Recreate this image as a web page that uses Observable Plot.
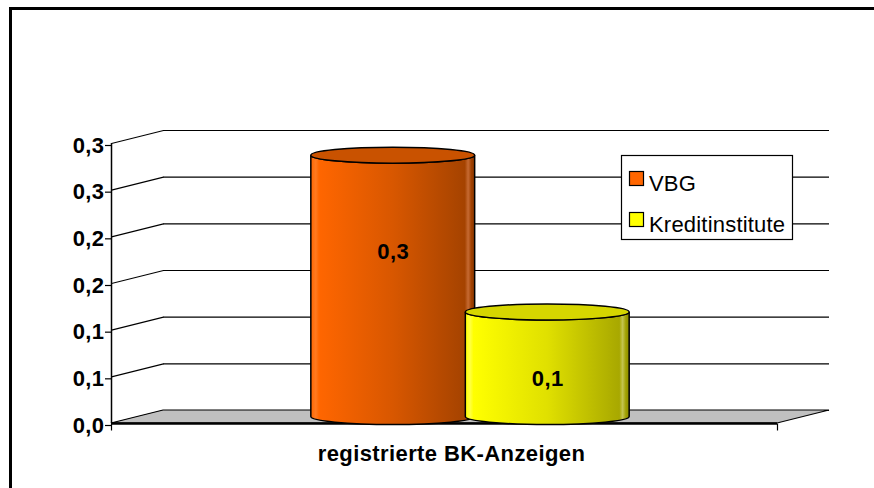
<!DOCTYPE html>
<html><head><meta charset="utf-8">
<script src="https://cdn.jsdelivr.net/npm/d3@7"></script>
<script src="https://cdn.jsdelivr.net/npm/@observablehq/plot@0.6"></script>
<style>html,body{margin:0;padding:0;background:#fff;overflow:hidden;} svg{display:block;overflow:hidden}</style>
</head><body><div id="chart"></div>
<script>
// ---- data ----
const category = "registrierte BK-Anzeigen";
const series = ["VBG", "Kreditinstitute"];
const values = [0.28, 0.112];
const valueLabels = ["0,3", "0,1"];
const yTicks = [0, 0.05, 0.1, 0.15, 0.2, 0.25, 0.3];
const yTickLabels = ["0,0", "0,1", "0,1", "0,2", "0,2", "0,3", "0,3"];

// ---- styles / layout ----
const sideGradients = [
  [["0%","#FF6600"],["3%","#FF7A20"],["5%","#FF6600"],["50%","#D85700"],["94%","#A54300"],["96%","#C66A32"],["98%","#A04000"],["100%","#8A3700"]],
  [["0%","#FFFF00"],["3%","#FFFF40"],["5%","#FFFF00"],["50%","#E0E000"],["94%","#A8A800"],["96%","#C4C450"],["98%","#A0A000"],["100%","#8C8C00"]]
];
const topColors = ["#C95200", "#D6D600"];
const swatchColors = ["#FF6600", "#FFFF00"];
const labelNudge = [-34, 14];
const W = 874, H = 488, L = 111, R = 777, T = 143, B = 423;
const depthDx = 52, depthDy = -13;
const xPerPx = 1 / (R - L), yPerPx = 0.3 / (B - T);
const depthX = depthDx * xPerPx, depthY = -depthDy * yPerPx;
const barCenters = [0.384, 0.616];
const barWidth = 0.246;
const font = "'Liberation Sans', Arial, Helvetica, sans-serif";

const rows = series.map((s, i) => ({series: s, value: values[i], label: valueLabels[i], i}));

function frameMark(index, scales) {
  const g = d3.create("svg:g");
  g.append("line").attr("x1", 10.5).attr("x2", 10.5).attr("y1", 7).attr("y2", H)
    .attr("stroke", "#000").attr("stroke-width", 3);
  g.append("line").attr("x1", 9).attr("x2", W).attr("y1", 8.5).attr("y2", 8.5)
    .attr("stroke", "#000").attr("stroke-width", 3);
  return g.node();
}

function floorMark(index, scales) {
  const g = d3.create("svg:g");
  const p = [[scales.x(0), scales.y(0)], [scales.x(1), scales.y(0)],
             [scales.x(1 + depthX), scales.y(depthY)], [scales.x(depthX), scales.y(depthY)]];
  g.append("path").attr("d", "M" + p.map(q => q.join(",")).join("L") + "Z")
    .attr("fill", "#C0C0C0").attr("stroke", "#000").attr("stroke-width", 1.2);
  return g.node();
}

function cylinderMark(index, scales) {
  const g = d3.create("svg:g");
  const defs = g.append("defs");
  rows.forEach((r, i) => {
    const lg = defs.append("linearGradient").attr("id", "side" + i)
      .attr("x1", "0").attr("x2", "1").attr("y1", "0").attr("y2", "0");
    sideGradients[i].forEach(([o, c]) => lg.append("stop").attr("offset", o).attr("stop-color", c));
  });
  rows.forEach((r, i) => {
    const cx = scales.x(barCenters[i]) + depthDx / 2;
    const rx = (scales.x(barWidth) - scales.x(0)) / 2;
    const ry = 8;
    const yTop = scales.y(r.value) + depthDy / 2;
    const yBot = scales.y(0) + depthDy / 2;
    g.append("path")
      .attr("d", `M${cx - rx},${yTop}V${yBot}A${rx},${ry} 0 0 0 ${cx + rx},${yBot}V${yTop}A${rx},${ry} 0 0 1 ${cx - rx},${yTop}Z`)
      .attr("fill", `url(#side${i})`).attr("stroke", "#000").attr("stroke-width", 1.5);
    g.append("ellipse").attr("cx", cx).attr("cy", yTop).attr("rx", rx).attr("ry", ry)
      .attr("fill", topColors[i]).attr("stroke", "#000").attr("stroke-width", 1.5);
  });
  return g.node();
}

function legendMark(index, scales) {
  const g = d3.create("svg:g").attr("text-anchor", "start");
  g.append("rect").attr("x", 621.5).attr("y", 155.5).attr("width", 171).attr("height", 84)
    .attr("fill", "#fff").attr("stroke", "#000").attr("stroke-width", 1.2);
  series.forEach((s, i) => {
    const y0 = 171.5 + i * 41;
    g.append("rect").attr("x", 629.5).attr("y", y0).attr("width", 14).attr("height", 14)
      .attr("fill", swatchColors[i]).attr("stroke", "#000").attr("stroke-width", 1.2);
    g.append("text").attr("x", 649).attr("y", y0 + 19).text(s).attr("text-anchor", "start")
      .attr("font-family", font).attr("font-size", 22).attr("letter-spacing", "0.2px").attr("fill", "#000");
  });
  return g.node();
}

const chart = Plot.plot({
  width: W, height: H,
  marginLeft: L, marginRight: W - R, marginTop: T, marginBottom: H - B,
  x: {domain: [0, 1], axis: null},
  y: {domain: [0, 0.3], axis: null},
  style: {fontFamily: font, background: "#fff", color: "#000"},
  marks: [
    frameMark,
    Plot.link(yTicks, {x1: 0, y1: d => d, x2: depthX, y2: d => d + depthY, stroke: "#000", strokeWidth: 1.2}),
    Plot.ruleY(yTicks, {x1: depthX, x2: 1 + depthX, y: d => d + depthY, stroke: "#000", strokeWidth: 1.2}),
    floorMark,
    Plot.ruleY([0], {x1: 0, x2: 1, stroke: "#000", strokeWidth: 2.5}),
    Plot.link([0, 1], {x1: d => d, x2: d => d, y1: 0, y2: -7 * yPerPx, stroke: "#000", strokeWidth: 1.2}),
    Plot.ruleX([0], {y1: 0, y2: 0.3, stroke: "#000", strokeWidth: 1.5}),
    Plot.axisY({ticks: yTicks, tickFormat: d => yTickLabels[yTicks.indexOf(d)], tickSize: 6, tickPadding: 1,
      fontSize: 22, fontWeight: "bold", label: null, anchor: "left", dy: 2, stroke: "#000", strokeWidth: 1.2}),
    legendMark,
    cylinderMark,
    ...rows.map((r, i) => Plot.text([r], {x: barCenters[i], y: d => d.value / 2, text: "label",
      dx: depthDx / 2, dy: depthDy / 2 + labelNudge[i], fontSize: 22, fontWeight: "bold", fill: "#000"})),
    Plot.text([category], {x: 0.5, y: 0, text: d => d, dx: 7, dy: 30, fontSize: 22, fontWeight: "bold", fill: "#000"})
  ]
});
d3.select(chart).selectAll("text").style("letter-spacing", function() {
  return this.getAttribute("font-weight") === "bold" || this.closest("[font-weight='bold']") ? "0.4px" : null;
});
document.getElementById("chart").append(chart);
</script>
</body></html>
